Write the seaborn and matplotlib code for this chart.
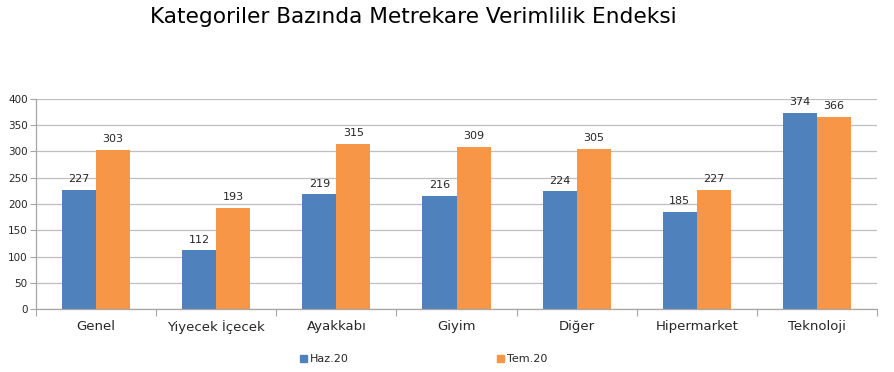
import pandas as pd
import seaborn as sns
import matplotlib.pyplot as plt
import matplotlib.ticker as mtick

sns.set_theme(style="white")
plt.rcParams["font.family"] = ["DejaVu Sans"]

categories = ["Genel", "Yiyecek İçecek", "Ayakkabı", "Giyim", "Diğer", "Hipermarket", "Teknoloji"]
haz20 = [227, 112, 219, 216, 224, 185, 374]
tem20 = [303, 193, 315, 309, 305, 227, 366]
series = ["Haz.20", "Tem.20"]
colors = ["#4F81BD", "#F79646"]

plotdata = pd.DataFrame({"Kategori": categories, "Haz.20": haz20, "Tem.20": tem20})
plotdata = plotdata.melt(id_vars="Kategori", var_name="Dönem", value_name="Endeks")

fig = plt.figure(figsize=(8.94, 3.72), dpi=100)
ax = fig.add_axes([0.0403, 0.169, 0.9407, 0.565])

sns.barplot(
    data=plotdata,
    x="Kategori",
    y="Endeks",
    hue="Dönem",
    hue_order=series,
    order=categories,
    palette=colors,
    width=0.567,
    gap=0,
    saturation=1,
    linewidth=0,
    ax=ax,
    legend=False,
)

for cont in ax.containers:
    ax.bar_label(cont, fmt="%d", padding=4, fontsize=8, color="#262626")

ax.set_ylim(0, 400)
ax.set_xlim(-0.5, 6.5)
ax.yaxis.set_major_locator(mtick.MultipleLocator(50))
ax.grid(True, axis="y", color="#BFBFBF", linewidth=0.9)
ax.set_axisbelow(True)
ax.set_xlabel("")
ax.set_ylabel("")

for s in ["top", "right"]:
    ax.spines[s].set_visible(False)
for s in ["left", "bottom"]:
    ax.spines[s].set_color("#A6A6A6")
    ax.spines[s].set_linewidth(0.9)

ax.tick_params(axis="y", labelsize=7.5, colors="#262626", length=4, width=0.8,
               left=True, color="#A6A6A6", pad=2)
ax.tick_params(axis="x", labelsize=9.5, colors="#262626", length=0, pad=8)
ax.set_xticks([i - 0.5 for i in range(8)], minor=True)
ax.tick_params(axis="x", which="minor", length=5, width=0.8, color="#A6A6A6", bottom=True)

fig.suptitle("Kategoriler Bazında Metrekare Verimlilik Endeksi",
             x=0.462, y=0.982, fontsize=15.6, color="black")

handles = [plt.Rectangle((0, 0), 1, 1, color=c) for c in colors]
fig.legend(handles, series, loc="center", bbox_to_anchor=(0.474, 0.035), ncol=2,
           frameon=False, fontsize=8, handlelength=0.6, handleheight=0.6,
           handletextpad=0.3, columnspacing=13.3)

fig.savefig("out.png", dpi=100)
